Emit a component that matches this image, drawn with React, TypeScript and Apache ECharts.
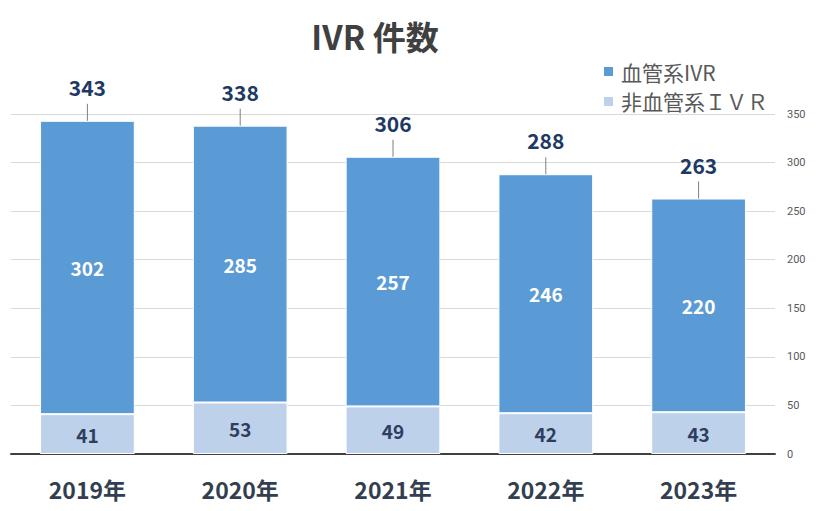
import React, { useEffect, useRef } from "react";
import * as echarts from "echarts";

const categories = ["2019年", "2020年", "2021年", "2022年", "2023年"];
const vascular = [302, 285, 257, 246, 220];
const nonVascular = [41, 53, 49, 42, 43];
const totals = [343, 338, 306, 288, 263];

export default function App() {
  const ref = useRef<HTMLDivElement>(null);
  useEffect(() => {
    const chart = echarts.init(ref.current!, null, { renderer: "svg" });
    const font = "'Noto Sans CJK JP', 'Noto Sans', sans-serif";
    chart.setOption({
      animation: false,
      backgroundColor: "#ffffff",
      textStyle: { fontFamily: font },
      title: {
        text: "IVR 件数",
        left: 370,
        top: 14,
        textAlign: "center",
        textStyle: { fontSize: 33, fontWeight: "bold", color: "#404040", fontFamily: font },
      },
      legend: {
        orient: "vertical",
        left: 597,
        top: 56,
        itemWidth: 11,
        itemHeight: 11,
        itemGap: 9,
        icon: "rect",
        data: ["血管系IVR", "非血管系ＩＶＲ"],
        textStyle: { fontSize: 21, color: "#595959", fontFamily: font, padding: [0, 0, 0, 2] },
      },
      grid: { left: 11, right: 48, top: 114, bottom: 57, containLabel: false },
      xAxis: {
        type: "category",
        data: categories,
        axisLine: { lineStyle: { color: "#404040", width: 2 } },
        axisTick: { show: false },
        axisLabel: { fontSize: 23, fontWeight: "bold", color: "#333f50", margin: 23, fontFamily: font },
      },
      yAxis: {
        type: "value",
        position: "right",
        min: 0,
        max: 350,
        interval: 50,
        axisLine: { show: false },
        axisTick: { show: false },
        splitLine: { lineStyle: { color: "#d9d9d9", width: 1 } },
        axisLabel: { fontSize: 11, color: "#595959", margin: 12, fontFamily: "Roboto, sans-serif" },
      },
      series: [
        {
          name: "非血管系ＩＶＲ",
          type: "bar",
          stack: "total",
          barWidth: "62%",
          data: nonVascular,
          itemStyle: { color: "#bdd1ea", borderColor: "#ffffff", borderWidth: 1 },
          label: {
            show: true,
            position: "inside",
            fontSize: 19,
            fontWeight: "bold",
            color: "#2f3e5f",
            fontFamily: font,
          },
        },
        {
          name: "血管系IVR",
          type: "bar",
          stack: "total",
          barWidth: "62%",
          data: vascular,
          itemStyle: { color: "#5b9bd5", borderColor: "#ffffff", borderWidth: 1 },
          label: {
            show: true,
            position: "inside",
            fontSize: 19,
            fontWeight: "bold",
            color: "#ffffff",
            fontFamily: font,
          },
        },
        {
          name: "合計",
          type: "custom",
          data: totals.map((v, i) => [i, v]),
          z: 10,
          renderItem: (params: any, api: any) => {
            const pt = api.coord([api.value(0), api.value(1)]);
            return {
              type: "group",
              children: [
                {
                  type: "line",
                  shape: { x1: pt[0], y1: pt[1] - 17, x2: pt[0], y2: pt[1] },
                  style: { stroke: "#7f7f7f", lineWidth: 1 },
                },
                {
                  type: "text",
                  x: pt[0],
                  y: pt[1] - 34,
                  style: {
                    text: String(api.value(1)),
                    fontSize: 21,
                    fontWeight: "bold",
                    fill: "#203864",
                    fontFamily: font,
                    align: "center",
                    verticalAlign: "middle",
                  },
                },
              ],
            };
          },
        },
      ],
    });
    return () => chart.dispose();
  }, []);
  return <div ref={ref} style={{ width: 823, height: 511, margin: -8 }} />;
}
